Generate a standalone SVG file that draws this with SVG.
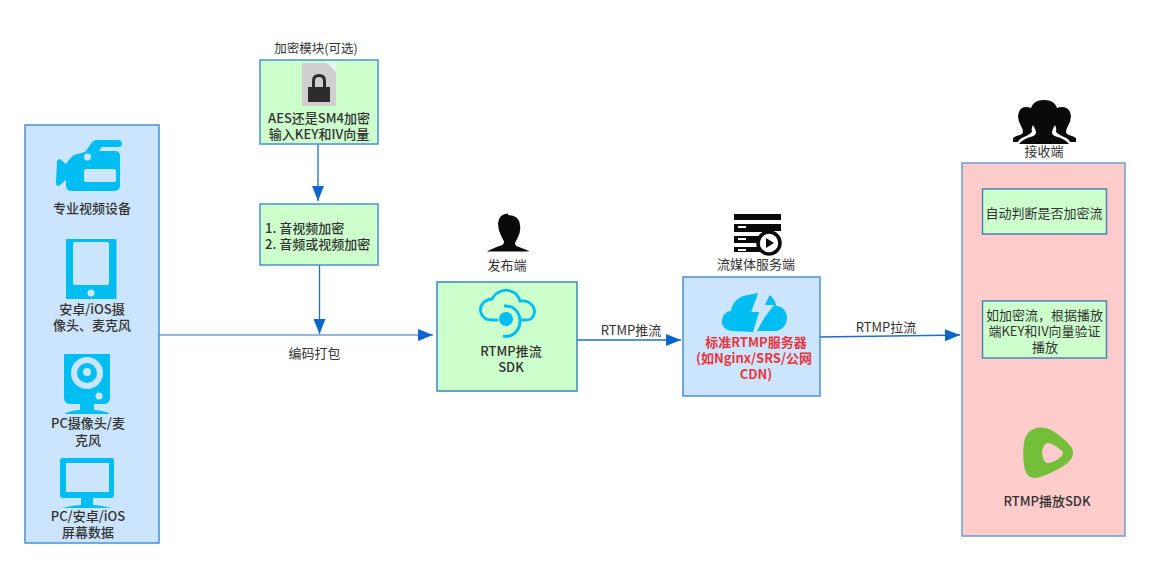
<svg xmlns="http://www.w3.org/2000/svg" width="1149" height="568" viewBox="0 0 1149 568">
  <style>
    text { font-family: "Noto Sans CJK SC", "Noto Sans", sans-serif; font-size: 13px; fill: #333; text-anchor: middle; }
    .b { font-weight: 500; }
    .red { fill: #e8353f; font-weight: 700; }
    .panel { stroke: #4a90d9; stroke-width: 1.5; }
    .green { fill: #ccffcc; }
    .blue { fill: #cce5ff; }
    .pink { fill: #ffcccc; stroke: #6c9bd6; }
    .inner { fill: #ccffcc; stroke: #4f80b5; stroke-width: 1.5; }
    .line { fill: none; stroke: #1a6fd0; stroke-width: 1.3; marker-end: url(#tip); }
    .sky { fill: #00bef2; }
    .dark { fill: #0a0a0a; }
  </style>
  <defs>
    <marker id="tip" markerUnits="userSpaceOnUse" markerWidth="16" markerHeight="12" refX="15" refY="6" orient="auto">
      <path d="M0 0L15 6L0 12Z" fill="#0a66cc"/>
    </marker>
  </defs>

  <g id="connectors">
    <path class="line" d="M318 144V201"/>
    <path class="line" d="M319.500 265V334"/>
    <path class="line" style="stroke:#6c9bd6;stroke-width:1.500" d="M159 335H433"/>
    <path class="line" d="M577 340H681"/>
    <path class="line" d="M820 337L960 335"/>
  </g>

  <g id="sources">
    <rect class="panel blue" x="25" y="125" width="134" height="418"/>
    <path class="sky" d="M57 161q1-2 3-2l6 5q2-4 8-9l11-3q4-5 7-10q2-2 5-2h22q3 1 3 3.500q0 3-3 3.500h-17q-3 3-3 4h16q5 0 5 5v30q0 4-5 5h-44q-4 0-5-5v-6l-6 5q-2 2-3.500 0q-.5-1-.5-3z"/>
    <circle cx="87.500" cy="157" r="3.500" fill="#cce5ff"/>
    <rect x="84" y="169" width="32" height="13" rx="2" fill="#cce5ff"/>
    <text x="92" y="213" class="b">专业视频设备</text>
    <path class="sky" d="M66 239h50.500v60h-50.500z"/>
    <rect x="73" y="242" width="36" height="43" rx="2" fill="#cce5ff"/>
    <circle cx="91" cy="293" r="3.500" fill="#cce5ff"/>
    <text x="92" y="314" class="b">安卓/iOS摄</text>
    <text x="92" y="330" class="b">像头、麦克风</text>
    <path class="sky" d="M64 354h46v44q0 5-5 6h-11v6q6 0 15 3v1h-44v-1q9-3 15-3v-6h-11q-5-1-5-6z"/>
    <circle cx="87" cy="373" r="16" fill="#cce5ff"/>
    <circle cx="87" cy="373" r="10" class="sky"/>
    <circle cx="87" cy="372" r="4" fill="#cce5ff"/>
    <circle cx="99" cy="396" r="3.500" fill="#cce5ff"/>
    <text x="88" y="428" class="b">PC摄像头/麦</text>
    <text x="88" y="445" class="b">克风</text>
    <path class="sky" d="M63 458h49q2 0 2 2v35q0 3-3 3h-18v7q6 0 19 3h-50q12-3 19-3v-7h-18q-3 0-3-3v-35q0-2 3-2z"/>
    <rect x="66" y="463" width="43" height="29" fill="#cce5ff"/>
    <text x="88" y="521" class="b">PC/安卓/iOS</text>
    <text x="88" y="537" class="b">屏幕数据</text>
  </g>

  <g id="encrypt-module">
    <text x="316" y="53" style="font-size:12.500px">加密模块(可选)</text>
    <rect class="panel green" x="260" y="60" width="118" height="84"/>
    <path d="M302 63h30l4 4v39h-34z" fill="#cfcfcf"/>
    <path d="M327 63h9v9z" fill="#eef5ee"/>
    <path d="M308 87h4v-6q0-7 7-7t7 7v6h4v15h-22zM315 87h8v-6q0-4-4-4t-4 4z" fill="#2c2c2c" fill-rule="evenodd"/>
    <text x="319" y="123" class="b">AES还是SM4加密</text>
    <text x="319" y="139" class="b">输入KEY和IV向量</text>
  </g>

  <g id="encrypt-steps">
    <rect class="panel green" x="260" y="204" width="118" height="61"/>
    <text x="265" y="233" class="b" style="text-anchor:start">1. 音视频加密</text>
    <text x="265" y="249" class="b" style="text-anchor:start">2. 音频或视频加密</text>
  </g>

  <text x="314.500" y="358">编码打包</text>

  <g id="publisher">
    <path class="dark" d="M508 215q11 0 12 10q1 6-2 12q-2 4-3 6q0 3 4 4q8 3 10 4q0 1 0 .5h-42q1-1 4-2q6-3 10-4q3-1 3-4q-1-2-3-6q-3-6-3-12q1-10 10-10z" transform="translate(0 0)"/>
    <text x="507" y="270">发布端</text>
    <rect x="437" y="282" width="140" height="109" class="green" stroke="#3c86c8" stroke-width="1.500"/>
    <path d="M498 320h-6c-11 0-15-11-8-18c3-2 6-3 8-3c4-8 14-11 21-7c4 2 6 6 7 9c10-1 16 6 14 13c-1 4-4 6-8 6h-5" fill="none" stroke="#00bef2" stroke-width="2.800"/>
    <path d="M504 306c9-1 16 6 16 15c0 10-8 17-17 15" fill="none" stroke="#00bef2" stroke-width="3"/>
    <circle cx="506" cy="319" r="7" class="sky"/>
    <text x="511" y="356" class="b">RTMP推流</text>
    <text x="511" y="372" class="b">SDK</text>
  </g>

  <text x="631" y="335">RTMP推流</text>

  <g id="media-server">
    <path class="dark" d="M734 214h47v6h-47zM734 224h47v7h-12v1h-35zM734 236h29q-3 3-4 7h-25zM734 247h25q1 3 2 5h-27z"/>
    <rect x="739" y="219" width="0" height="0"/>
    <rect x="738" y="226" width="8" height="2" fill="#fff"/>
    <rect x="738" y="238" width="8" height="2" fill="#fff"/>
    <rect x="738" y="249" width="8" height="2" fill="#fff"/>
    <circle cx="769" cy="243" r="11" fill="none" stroke="#0a0a0a" stroke-width="3.500"/>
    <path class="dark" d="M766 238l8 5l-8 5z"/>
    <text x="756" y="269">流媒体服务端</text>
    <rect class="panel blue" x="683" y="277" width="137" height="119"/>
    <path class="sky" d="M733 331c-8 0-12-6-11-11c1-6 5-9 9-9c1-8 7-15 17-16l10-2l-6 19h10l-9 20z"/>
    <path class="sky" d="M768 294c5 3 8 8 8 12c8 0 11 7 11 12c0 7-6 13-12 13h-18l11-20h-8z"/>
    <path d="M759 292h12l-6 13h9l-21 27l6-20h-8z" fill="#cce5ff"/>
    <text x="756" y="347" class="red">标准RTMP服务器</text>
    <text x="754" y="363" class="red">(如Nginx/SRS/公网</text>
    <text x="756" y="379" class="red">CDN)</text>
  </g>

  <text x="886" y="332">RTMP拉流</text>

  <g id="receiver">
    <path class="dark" d="M1044 100q13 0 14 13q0 6-3 12q-3 5-3 8q1 3 6 4q8 3 11 7h-50q3-4 11-7q5-1 6-4q0-3-3-8q-3-6-3-12q1-13 14-13z"/>
    <path class="dark" d="M1026 107q9 0 9 9q0 5-2 9q-2 4-1 7q-3 3-8 5q-5 2-6 5h-5v-4q3-2 7-3q3-1 3-3q0-3-2-6q-3-5-3-10q1-9 8-9z"/>
    <path class="dark" d="M1062 107q8 0 9 9q0 5-3 10q-2 3-2 6q0 2 3 3q4 1 7 3v4h-6q-1-3-6-5q-5-2-8-5q1-3-1-7q-2-4-2-9q0-9 9-9z"/>
    <text x="1044" y="156">接收端</text>
    <rect x="962" y="163" width="163" height="373" class="pink" stroke-width="1.500"/>
    <rect class="inner" x="982.500" y="189" width="124" height="45"/>
    <text x="1044" y="218">自动判断是否加密流</text>
    <rect class="inner" x="982.500" y="301" width="124" height="57"/>
    <text x="1044.500" y="320">如加密流，根据播放</text>
    <text x="1044.500" y="336">端KEY和IV向量验证</text>
    <text x="1045" y="352">播放</text>
    <path d="M1037 428c9-2 17 3 24 9c8 6 12 11 12 16c0 5-4 10-13 15c-8 5-19 9-25 10c-6 0-10-4-11-13c-1-6-1-16 0-22c1-8 6-14 13-15z" fill="#73bf3a"/>
    <path d="M1048 443q3 0 9 4q6 4 6 6q0 3-6 7q-6 3-9 3q-5 0-6-10q1-10 6-10z" fill="#ffcccc"/>
    <text x="1047" y="506" class="b">RTMP播放SDK</text>
  </g>
</svg>
